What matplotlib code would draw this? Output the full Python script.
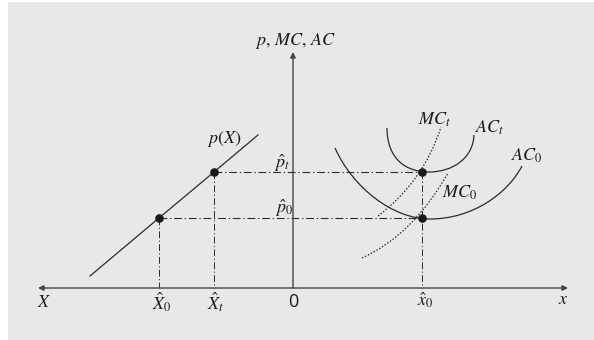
import matplotlib.pyplot as plt
from matplotlib.path import Path
from matplotlib.patches import PathPatch, Rectangle

plt.rcParams['mathtext.fontset'] = 'stix'

# equilibrium points (diagram units, origin at the axes crossing)
X0_hat = -134
Xt_hat = -79
x0_hat = 129
p0_hat = 70
pt_hat = 116

# demand p(X)
demand_x = [-203, -134, -79, -35]
demand_y = [12, 70, 116, 153]

# cost curves as bezier control points
ac0_pts = [(42, 140), (60, 100), (100, 69), (137, 69), (180, 69), (215, 95), (229, 122)]
act_pts = [(94, 160), (94, 130), (112, 116), (136, 116), (160, 116), (180, 130), (181, 153)]
mct_pts = [(85, 72), (131, 107), (148, 161)]
mc0_pts = [(69, 30), (120, 53), (155, 115)]

x_axis = [-255, 275]
y_top = 236

ink = '#2b2b2b'
dashdot = (0, (7, 2.5, 1.2, 2.5))

fig = plt.figure(figsize=(5.94, 3.40), dpi=100)
fig.patch.set_facecolor('white')
fig.patches.append(Rectangle((8/594, 0), 586/594, 338/340, transform=fig.transFigure,
                             facecolor='#e8e8e8', edgecolor='none', zorder=-10))
ax = fig.add_axes([0, 0, 1, 1])
ax.set_xlim(-293, 301)
ax.set_ylim(-52, 288)
ax.axis('off')

# axes with arrows
ax.annotate('', xy=(x_axis[1], 0), xytext=(x_axis[0], 0),
            arrowprops=dict(arrowstyle='<|-|>', color='#444444', lw=1.0,
                            mutation_scale=8, shrinkA=0, shrinkB=0))
ax.annotate('', xy=(0, y_top), xytext=(0, 0),
            arrowprops=dict(arrowstyle='-|>', color='#444444', lw=1.0,
                            mutation_scale=8, shrinkA=0, shrinkB=0))

# demand
ax.plot(demand_x, demand_y, color=ink, lw=0.9)

# guide lines
for xv, yv in [(X0_hat, p0_hat), (Xt_hat, pt_hat)]:
    ax.plot([xv, x0_hat], [yv, yv], color=ink, lw=0.8, linestyle=dashdot)
    ax.plot([xv, xv], [yv, 0], color=ink, lw=0.7, linestyle=dashdot)
ax.plot([x0_hat, x0_hat], [pt_hat, 0], color=ink, lw=0.7, linestyle=dashdot)

# AC curves
for pts in [ac0_pts, act_pts]:
    codes = [Path.MOVETO] + [Path.CURVE4] * (len(pts) - 1)
    ax.add_patch(PathPatch(Path(pts, codes), facecolor='none', edgecolor=ink, lw=0.9))

# MC curves (dotted)
for pts in [mct_pts, mc0_pts]:
    codes = [Path.MOVETO, Path.CURVE3, Path.CURVE3]
    ax.add_patch(PathPatch(Path(pts, codes), facecolor='none', edgecolor=ink, lw=0.9,
                           linestyle=(0, (1.2, 1.4))))

ax.plot([X0_hat, Xt_hat, x0_hat, x0_hat], [p0_hat, pt_hat, p0_hat, pt_hat], 'o',
        color='#1a1a1a', ms=5.2, zorder=5)

fs = 13
tc = '#1a1a1a'
ax.text(3, 247, r'$p,\,MC,\,AC$', fontsize=fs, color=tc, ha='center', va='center')
ax.text(-69, 149, r'$p(X)$', fontsize=fs, color=tc, ha='center', va='center')
ax.text(-11, 125, r'$\hat{p}_t$', fontsize=fs, color=tc, ha='center', va='center')
ax.text(-9, 80, r'$\hat{p}_0$', fontsize=fs, color=tc, ha='center', va='center')
ax.text(142, 168, r'$MC_t$', fontsize=fs, color=tc, ha='center', va='center')
ax.text(197, 160, r'$AC_t$', fontsize=fs, color=tc, ha='center', va='center')
ax.text(234, 132, r'$AC_0$', fontsize=fs, color=tc, ha='center', va='center')
ax.text(167, 95, r'$MC_0$', fontsize=fs, color=tc, ha='center', va='center')

ax.text(-249, -14, r'$X$', fontsize=fs, color=tc, ha='center', va='center')
ax.text(-131, -14, r'$\hat{X}_0$', fontsize=fs, color=tc, ha='center', va='center')
ax.text(-77, -14, r'$\hat{X}_t$', fontsize=fs, color=tc, ha='center', va='center')
ax.text(0, -14, '0', fontsize=13, color=tc, ha='center', va='center', family='Open Sans')
ax.text(132, -12, r'$\hat{x}_0$', fontsize=fs, color=tc, ha='center', va='center')
ax.text(270, -11, r'$x$', fontsize=fs, color=tc, ha='center', va='center')

fig.savefig('out.png', dpi=100)
